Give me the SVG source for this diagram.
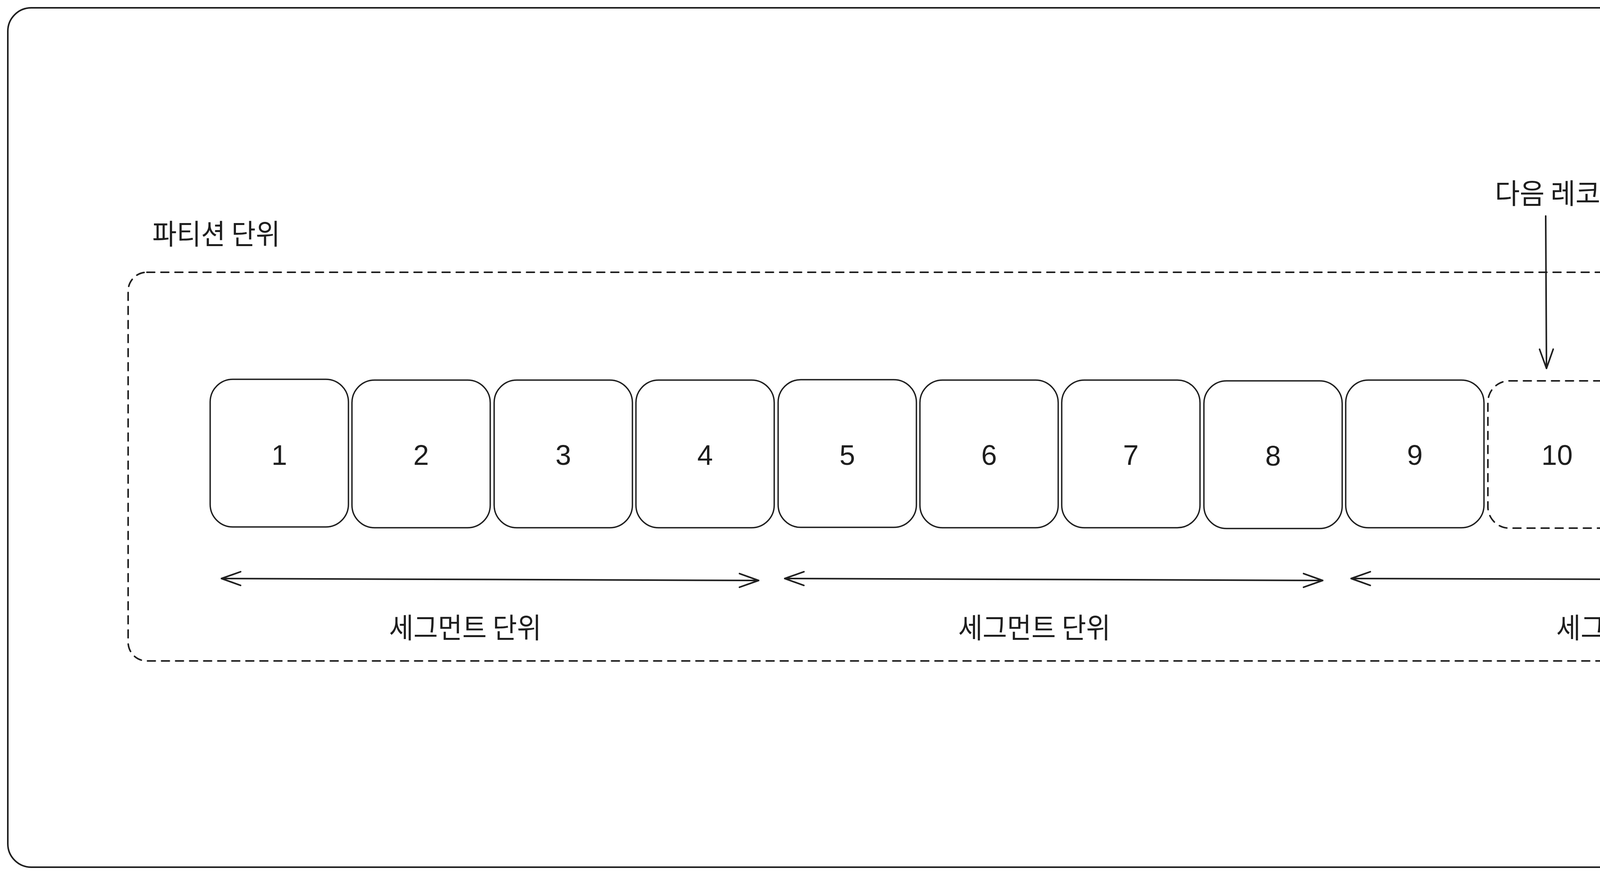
<svg xmlns="http://www.w3.org/2000/svg" width="5478" height="2240" viewBox="0 0 5478 2240">
  <style>
    .frame { fill: #ffffff; stroke: #1e1e1e; stroke-width: 4; }
    .box { fill: #ffffff; stroke: #1e1e1e; stroke-width: 3.5; }
    .dash { fill: none; stroke: #1e1e1e; stroke-width: 4; stroke-dasharray: 20 16; stroke-linecap: round; }
    .conn { fill: none; stroke: #1e1e1e; stroke-width: 4; stroke-linecap: round; }
    .num { font-family: "Liberation Sans", Arial, sans-serif; font-size: 72px; fill: #1e1e1e; text-anchor: middle; }
    .kr { font-family: "Noto Sans CJK KR", "Noto Sans", sans-serif; font-size: 72px; fill: #1e1e1e; }
  </style>
  <defs>
    <marker id="arr" viewBox="-55 -25 60 50" markerWidth="60" markerHeight="50" refX="0" refY="0" orient="auto-start-reverse" markerUnits="userSpaceOnUse">
      <path d="M-49,-17.5 L0,0 L-49,17.5" fill="none" stroke="#1e1e1e" stroke-width="4" stroke-linecap="round" stroke-linejoin="round"/>
    </marker>
  </defs>

  <rect x="0" y="0" width="5478" height="2240" fill="#ffffff"/>

  <g id="outer-frame">
    <rect class="frame" x="20" y="20" width="5438" height="2200" rx="60" ry="60"/>
  </g>

  <g id="partition">
    <rect class="dash" x="328" y="697" width="4964" height="995" rx="48" ry="48"/>
    <text class="kr" x="390" y="625" textLength="327" lengthAdjust="spacingAndGlyphs">파티션 단위</text>
  </g>

  <g id="node-1"><rect class="box" x="538" y="971" width="354" height="378" rx="58" ry="58"/><text class="num" x="715" y="1190">1</text></g>
  <g id="node-2"><rect class="box" x="901" y="973" width="354" height="378" rx="58" ry="58"/><text class="num" x="1078" y="1190">2</text></g>
  <g id="node-3"><rect class="box" x="1265" y="973" width="354" height="378" rx="58" ry="58"/><text class="num" x="1442" y="1190">3</text></g>
  <g id="node-4"><rect class="box" x="1628" y="973" width="354" height="378" rx="58" ry="58"/><text class="num" x="1805" y="1190">4</text></g>
  <g id="node-5"><rect class="box" x="1992" y="972" width="354" height="378" rx="58" ry="58"/><text class="num" x="2169" y="1190">5</text></g>
  <g id="node-6"><rect class="box" x="2355" y="973" width="354" height="378" rx="58" ry="58"/><text class="num" x="2532" y="1190">6</text></g>
  <g id="node-7"><rect class="box" x="2718" y="973" width="354" height="378" rx="58" ry="58"/><text class="num" x="2895" y="1190">7</text></g>
  <g id="node-8"><rect class="box" x="3082" y="975" width="354" height="378" rx="58" ry="58"/><text class="num" x="3259" y="1192">8</text></g>
  <g id="node-9"><rect class="box" x="3445" y="973" width="354" height="378" rx="58" ry="58"/><text class="num" x="3622" y="1190">9</text></g>
  <g id="node-10"><rect class="dash" x="3809" y="975" width="355" height="377" rx="55" ry="55"/><text class="num" x="3986" y="1190">10</text></g>

  <g id="label-next">
    <text class="kr" x="3827" y="521" textLength="682" lengthAdjust="spacingAndGlyphs">다음 레코드가 기록될 곳</text>
  </g>

  <g id="segment-labels">
    <text class="kr" x="996" y="1633" textLength="390" lengthAdjust="spacingAndGlyphs">세그먼트 단위</text>
    <text class="kr" x="2453" y="1633" textLength="390" lengthAdjust="spacingAndGlyphs">세그먼트 단위</text>
    <text class="kr" x="3984" y="1633" textLength="390" lengthAdjust="spacingAndGlyphs">세그먼트 단위</text>
  </g>

  <g id="connectors">
    <line class="conn" x1="3957" y1="553" x2="3959" y2="943" marker-end="url(#arr)"/>
    <line class="conn" x1="567" y1="1481" x2="1942" y2="1486" marker-start="url(#arr)" marker-end="url(#arr)"/>
    <line class="conn" x1="2009" y1="1481" x2="3386" y2="1486" marker-start="url(#arr)" marker-end="url(#arr)"/>
    <line class="conn" x1="3459" y1="1481" x2="4839" y2="1485" marker-start="url(#arr)" marker-end="url(#arr)"/>
  </g>
</svg>
